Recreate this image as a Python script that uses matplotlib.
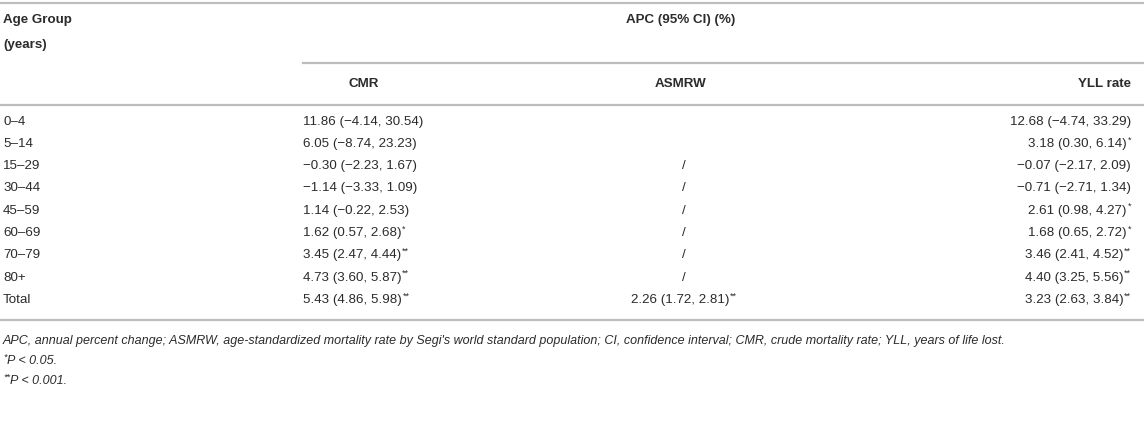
import matplotlib
matplotlib.use("Agg")
import matplotlib.pyplot as plt
from matplotlib.lines import Line2D

plt.rcParams["font.family"] = ["Liberation Sans", "DejaVu Sans"]

age_groups = ["0–4", "5–14", "15–29", "30–44", "45–59", "60–69", "70–79", "80+", "Total"]
cmr = ["11.86 (−4.14, 30.54)", "6.05 (−8.74, 23.23)", "−0.30 (−2.23, 1.67)",
       "−1.14 (−3.33, 1.09)", "1.14 (−0.22, 2.53)", "1.62 (0.57, 2.68)",
       "3.45 (2.47, 4.44)", "4.73 (3.60, 5.87)", "5.43 (4.86, 5.98)"]
cmr_sig = ["", "", "", "", "", "*", "**", "**", "**"]
asmrw = ["", "", "/", "/", "/", "/", "/", "/", "2.26 (1.72, 2.81)"]
asmrw_sig = ["", "", "", "", "", "", "", "", "**"]
yll = ["12.68 (−4.74, 33.29)", "3.18 (0.30, 6.14)", "−0.07 (−2.17, 2.09)",
       "−0.71 (−2.71, 1.34)", "2.61 (0.98, 4.27)", "1.68 (0.65, 2.72)",
       "3.46 (2.41, 4.52)", "4.40 (3.25, 5.56)", "3.23 (2.63, 3.84)"]
yll_sig = ["", "*", "", "", "*", "*", "**", "**", "**"]

header_group = "APC (95% CI) (%)"
col_headers = ["CMR", "ASMRW", "YLL rate"]
footnotes = [
    "APC, annual percent change; ASMRW, age-standardized mortality rate by Segi's world standard "
    "population; CI, confidence interval; CMR, crude mortality rate; YLL, years of life lost.",
    "P < 0.05.",
    "P < 0.001.",
]
foot_marks = ["", "*", "**"]

W, H = 1144, 425
fig = plt.figure(figsize=(W / 100, H / 100), dpi=100)
ax = fig.add_axes([0, 0, 1, 1])
ax.set_xlim(0, W)
ax.set_ylim(H, 0)
ax.axis("off")

TXT = "#2b2b2b"
LINE = "#bdbdbd"
FS = 9.6
SUP = 6.5

renderer = fig.canvas.get_renderer()


def hline(y, x0=0, x1=W):
    ax.add_line(Line2D([x0, x1], [y, y], color=LINE, lw=1.6))


def width_px(t):
    bb = t.get_window_extent(renderer=renderer)
    return bb.width


def cell(x, y, s, sig, ha, **kw):
    # value text with small raised stars
    if ha == "left":
        t = ax.text(x, y, s, ha="left", va="center", fontsize=FS, color=TXT, **kw)
        if sig:
            ax.text(x + width_px(t) + 0.5, y - 4, sig, ha="left", va="center",
                    fontsize=SUP, color=TXT, **kw)
    elif ha == "right":
        sw = 0
        if sig:
            st = ax.text(x, y - 4, sig, ha="right", va="center", fontsize=SUP, color=TXT, **kw)
            sw = width_px(st) + 0.5
        ax.text(x - sw, y, s, ha="right", va="center", fontsize=FS, color=TXT, **kw)
    else:
        t = ax.text(x, y, s, ha="center", va="center", fontsize=FS, color=TXT, **kw)
        if sig:
            w = width_px(t)
            st = ax.text(0, 0, sig, fontsize=SUP)
            sw = width_px(st)
            st.remove()
            t.set_x(x - sw / 2)
            ax.text(x - sw / 2 + w / 2 + 0.5, y - 4, sig, ha="left", va="center",
                    fontsize=SUP, color=TXT, **kw)


# rules
hline(3)
hline(63, 303, W)
hline(105)
hline(320)

# headers
ax.text(3, 20, "Age Group", ha="left", va="center", fontsize=FS, fontweight="bold", color=TXT)
ax.text(3, 45, "(years)", ha="left", va="center", fontsize=FS, fontweight="bold", color=TXT)
ax.text(681, 20, header_group, ha="center", va="center", fontsize=FS, fontweight="bold", color=TXT)
ax.text(364, 84, col_headers[0], ha="center", va="center", fontsize=FS, fontweight="bold", color=TXT)
ax.text(681, 84, col_headers[1], ha="center", va="center", fontsize=FS, fontweight="bold", color=TXT)
ax.text(1131, 84, col_headers[2], ha="right", va="center", fontsize=FS, fontweight="bold", color=TXT)

# body
row_y0, row_dy = 121.5, 22.3
for i, g in enumerate(age_groups):
    y = row_y0 + i * row_dy
    ax.text(3, y, g, ha="left", va="center", fontsize=FS, color=TXT)
    cell(303, y, cmr[i], cmr_sig[i], "left")
    if asmrw[i]:
        cell(684, y, asmrw[i], asmrw_sig[i], "center")
    cell(1131, y, yll[i], yll_sig[i], "right")

# footnotes
foot_y = [341, 361, 381]
for mark, note, y in zip(foot_marks, footnotes, foot_y):
    x = 3
    if mark:
        m = ax.text(x, y - 4, mark, ha="left", va="center", fontsize=SUP, style="italic", color=TXT)
        x += width_px(m) + 0.5
    ax.text(x, y, note, ha="left", va="center", fontsize=9.0, style="italic", color=TXT)

fig.savefig("out.png", dpi=100)
